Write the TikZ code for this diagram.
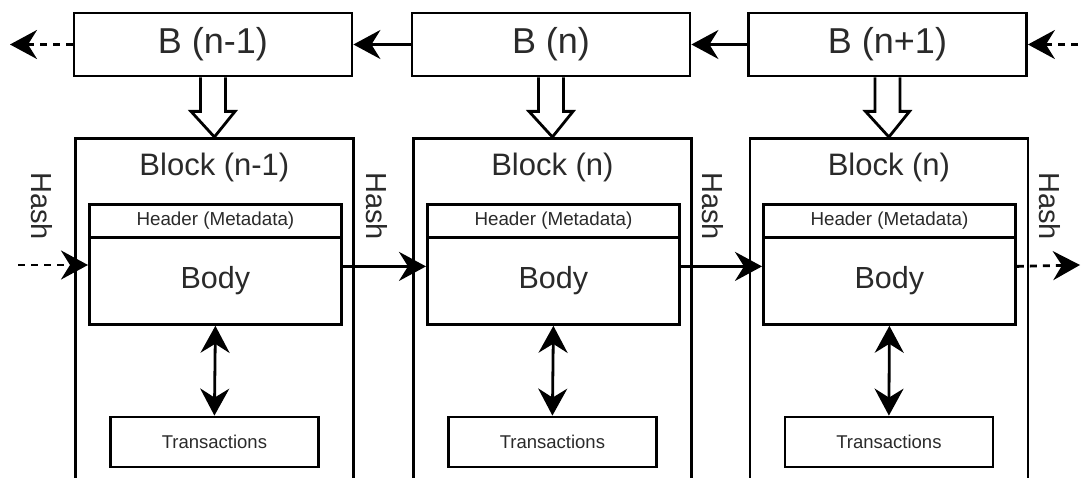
\documentclass[tikz,border=0pt]{standalone}
\usepackage{fontspec}
\setmainfont{Liberation Sans}
\usetikzlibrary{arrows.meta,calc}
\definecolor{txt}{HTML}{2A2A2A}
\tikzset{
  box/.style={draw=black,line width=2.8pt,fill=white,inner sep=0pt,text=txt},
  bbox/.style={box,minimum width=278pt,minimum height=63pt,font=\fontsize{36}{38}\selectfont},
  outerbox/.style={box,minimum width=278pt,minimum height=353pt,anchor=north west},
  hdr/.style={box,minimum width=252pt,minimum height=33pt,anchor=north west,font=\fontsize{18.8}{20}\selectfont},
  bodybox/.style={box,minimum width=252pt,minimum height=87pt,anchor=north west,font=\fontsize{30.5}{32}\selectfont},
  trans/.style={box,minimum width=208pt,minimum height=50pt,font=\fontsize{18.5}{20}\selectfont},
  lbl/.style={text=txt,inner sep=0pt,font=\fontsize{31}{33}\selectfont},
  hashlbl/.style={lbl,font=\fontsize{29}{32}\selectfont},
  arr/.style={line width=2.8pt,-{Stealth[length=27pt,width=29pt,inset=9pt]}},
  darr/.style={line width=2.8pt,{Stealth[length=27pt,width=29pt,inset=9pt]}-{Stealth[length=27pt,width=29pt,inset=9pt]}},
  dsh/.style={arr,dash pattern=on 7pt off 6pt},
  hollow/.style={draw=black,line width=2.8pt,fill=white,line join=miter}
}
\begin{document}
\begin{tikzpicture}[x=1pt,y=-1pt]
\useasboundingbox (0,0) rectangle (1083,478);
\clip (0,0) rectangle (1083,478);
% top chain
\node[bbox] (b1) at (213,44.5) {B (n-1)};
\node[bbox] (b2) at (551,44.5) {B (n)};
\node[bbox] (b3) at (887.5,44.5) {B (n+1)};
\coordinate (tl) at (10,44.5);
\coordinate (tr) at (1078,44.5);
\draw[arr] (b3.west) -- (b2.east);
\draw[arr] (b2.west) -- (b1.east);
\draw[dsh] (b1.west) -- (tl);
\draw[dsh] (tr) -- (b3.east);
% blocks
\foreach \i/\x/\bx/\lab in {1/74/88/{Block (n-1)},2/412/426/{Block (n)},3/748.5/762/{Block (n)}}{
  \node[outerbox] (k\i) at (\x,137) {};
  \node[lbl] (kl\i) at ($(k\i.north)+(0,30)$) {\lab};
  \node[hdr] (h\i) at (\bx,203) {Header (Metadata)};
  \node[bodybox] (d\i) at (\bx,236) {Body};
  \node[trans] (t\i) at ($(k\i.north)+(0,305)$) {Transactions};
  \draw[darr] (d\i.south) -- (t\i.north);
  \draw[hollow] ($(b\i.south)+(-12.5,0)$) -- ($(b\i.south)+(-12.5,34)$) -- ($(b\i.south)+(-22,34)$)
     -- (k\i.north) -- ($(b\i.south)+(22,34)$) -- ($(b\i.south)+(12.5,34)$) -- ($(b\i.south)+(12.5,0)$);
}
% hash arrows
\coordinate (hl) at (18,265);
\coordinate (hr) at (1080,265);
\draw[dsh] (hl) -- (hl -| d1.west);
\draw[arr] ([yshift=14.5pt]d1.east) -- ([yshift=14.5pt]d2.west);
\draw[arr] ([yshift=14.5pt]d2.east) -- ([yshift=14.5pt]d3.west);
\draw[dsh] ([yshift=14.5pt]d3.east) -- (hr);
% hash labels
\node[hashlbl,rotate=-90] (hs0) at (42,206) {Hash};
\node[hashlbl,rotate=-90] (hs1) at (377,206) {Hash};
\node[hashlbl,rotate=-90] (hs2) at (713,206) {Hash};
\node[hashlbl,rotate=-90] (hs3) at (1050,206) {Hash};
\end{tikzpicture}
\end{document}
